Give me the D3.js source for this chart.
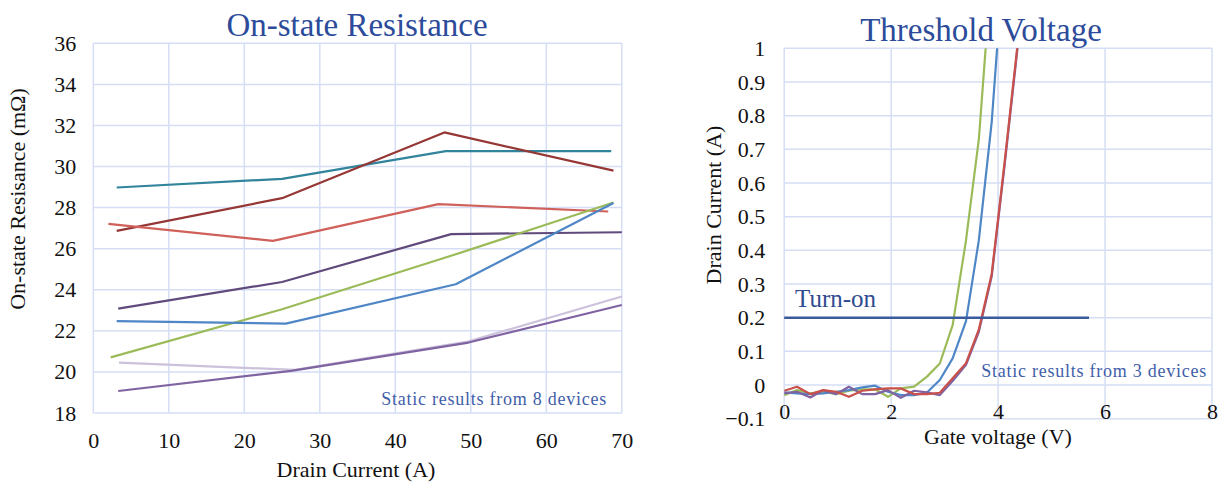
<!DOCTYPE html>
<html>
<head>
<meta charset="utf-8">
<script src="https://cdn.jsdelivr.net/npm/d3@7"></script>
<style>
  html, body { margin: 0; padding: 0; background: #fff; }
  svg { display: block; }
  text { font-family: "Liberation Serif", "Times New Roman", serif; }
</style>
</head>
<body>
<svg id="chart" width="1228" height="483"></svg>
<script>
// ---------- On-state resistance vs drain current (8 devices) ----------
const resTicksX = [0, 10, 20, 30, 40, 50, 60, 70];
const resTicksY = [18, 20, 22, 24, 26, 28, 30, 32, 34, 36];

const devTealI   = [3.1, 25.0, 46.7, 68.6];
const devTealR   = [28.98, 29.40, 30.75, 30.75];
const devMaroonI = [3.1, 25.0, 46.5, 68.9];
const devMaroonR = [26.87, 28.46, 31.66, 29.80];
const devCoralI  = [2.0, 23.8, 45.7, 68.2];
const devCoralR  = [27.21, 26.38, 28.17, 27.81];
const devPlumI   = [3.3, 25.0, 47.4, 70.0];
const devPlumR   = [23.08, 24.38, 26.71, 26.80];
const devGreenI  = [2.3, 25.0, 47.7, 68.9];
const devGreenR  = [20.71, 23.05, 25.69, 28.25];
const devBlueI   = [3.1, 25.5, 48.0, 68.9];
const devBlueR   = [22.47, 22.35, 24.27, 28.22];
const devLilacI  = [3.4, 26.7, 49.6, 70.0];
const devLilacR  = [20.45, 20.10, 21.48, 23.67];
const devPurpleI = [3.3, 26.2, 49.7, 70.0];
const devPurpleR = [19.07, 20.05, 21.43, 23.26];

// ---------- Transfer curves, drain current vs gate voltage ----------
const vthTicksX = [0, 2, 4, 6, 8];
const vthTicksY = [-0.1, 0, 0.1, 0.2, 0.3, 0.4, 0.5, 0.6, 0.7, 0.8, 0.9, 1];
const gateV = [0, 0.24, 0.49, 0.73, 0.97, 1.21, 1.46, 1.70, 1.94, 2.18, 2.43, 2.67, 2.91, 3.15, 3.40, 3.64, 3.88, 4.12, 4.37];
const idGreen  = [-0.030, -0.015, -0.025, -0.020, -0.027, -0.017, -0.013, -0.013, -0.035, -0.010, -0.005, 0.025, 0.064, 0.178, 0.430, 0.730, 1.240];
const idBlue   = [-0.022, -0.025, -0.027, -0.025, -0.020, -0.015, -0.007, -0.002, -0.020, -0.030, -0.030, -0.022, 0.015, 0.079, 0.190, 0.430, 0.780, 1.300];
const idPurple = [-0.025, -0.020, -0.037, -0.015, -0.027, -0.005, -0.027, -0.027, -0.015, -0.038, -0.017, -0.022, -0.030, 0.012, 0.060, 0.158, 0.322, 0.650, 1.010];
const idRed    = [-0.017, -0.005, -0.027, -0.015, -0.020, -0.035, -0.017, -0.013, -0.010, -0.010, -0.027, -0.027, -0.023, 0.020, 0.065, 0.165, 0.330, 0.660, 1.020];
const turnOnLevel = 0.2;
const turnOnSpan = [0, 5.7];

const svg = d3.select("#chart");
const serif = "'Liberation Serif', 'Times New Roman', serif";
const gridColor = "#d5def4";
const titleColor = "#2c4b9a";
const noteColor = "#3f5eaa";
const tickSize = 22;

function zip(xs, ys) { return ys.map((y, i) => [xs[i], y]); }
function styleAxis(g) {
  g.attr("font-family", serif).attr("font-size", tickSize);
  g.select(".domain").remove();
  g.selectAll("text").attr("fill", "#111");
}

// ======== left panel ========
const xL = d3.scaleLinear().domain([0, 70]).range([93.3, 621.8]);
const yL = d3.scaleLinear().domain([18, 36]).range([413, 43.3]);
const gL = svg.append("g");

gL.append("g").selectAll("line").data(resTicksX).join("line")
  .attr("x1", d => xL(d)).attr("x2", d => xL(d))
  .attr("y1", yL(18)).attr("y2", yL(36))
  .attr("stroke", gridColor).attr("stroke-width", 1.5);
gL.append("g").selectAll("line").data(resTicksY).join("line")
  .attr("x1", xL(0)).attr("x2", xL(70))
  .attr("y1", d => yL(d)).attr("y2", d => yL(d))
  .attr("stroke", gridColor).attr("stroke-width", 1.5);

gL.append("g").attr("transform", `translate(${xL(0)},0)`)
  .call(d3.axisLeft(yL).tickValues(resTicksY).tickSize(0).tickPadding(17))
  .call(styleAxis);
gL.append("g").attr("transform", `translate(0,${yL(18)})`)
  .call(d3.axisBottom(xL).tickValues(resTicksX).tickSize(0).tickPadding(19))
  .call(styleAxis);

const resSeries = [
  { I: devTealI,   R: devTealR,   color: "#31849b" },
  { I: devMaroonI, R: devMaroonR, color: "#953735" },
  { I: devCoralI,  R: devCoralR,  color: "#d0605a" },
  { I: devPlumI,   R: devPlumR,   color: "#5f4a7b" },
  { I: devGreenI,  R: devGreenR,  color: "#9bbb59" },
  { I: devBlueI,   R: devBlueR,   color: "#4f86c6" },
  { I: devLilacI,  R: devLilacR,  color: "#cdc2dc" },
  { I: devPurpleI, R: devPurpleR, color: "#8064a2" }
];
const lineL = d3.line().x(d => xL(d[0])).y(d => yL(d[1]));
gL.append("g").selectAll("path").data(resSeries).join("path")
  .attr("d", s => lineL(zip(s.I, s.R)))
  .attr("fill", "none").attr("stroke", s => s.color)
  .attr("stroke-width", 2.2).attr("stroke-linejoin", "round");

gL.append("text").attr("x", 357).attr("y", 36).attr("text-anchor", "middle")
  .attr("font-size", 33).attr("fill", titleColor).text("On-state Resistance");
gL.append("text").attr("x", 356).attr("y", 477).attr("text-anchor", "middle")
  .attr("font-size", 22).attr("fill", "#111").text("Drain Current (A)");
gL.append("text").attr("transform", "translate(25,199) rotate(-90)")
  .attr("text-anchor", "middle").attr("font-size", 22).attr("fill", "#111")
  .text("On-state Resisance (mΩ)");
gL.append("text").attr("x", 607).attr("y", 405).attr("text-anchor", "end")
  .attr("font-size", 18).attr("letter-spacing", 0.75).attr("fill", noteColor)
  .text("Static results from 8 devices");

// ======== right panel ========
const xR = d3.scaleLinear().domain([0, 8]).range([784.2, 1212]);
const yR = d3.scaleLinear().domain([-0.1, 1]).range([418.7, 48.3]);
const gR = svg.append("g");

svg.append("defs").append("clipPath").attr("id", "clipR")
  .append("rect").attr("x", xR(0)).attr("y", yR(1))
  .attr("width", xR(8) - xR(0)).attr("height", yR(-0.1) - yR(1));

gR.append("g").selectAll("line").data(vthTicksX).join("line")
  .attr("x1", d => xR(d)).attr("x2", d => xR(d))
  .attr("y1", yR(-0.1)).attr("y2", yR(1))
  .attr("stroke", gridColor).attr("stroke-width", 1.5);
gR.append("g").selectAll("line").data(vthTicksY).join("line")
  .attr("x1", xR(0)).attr("x2", xR(8))
  .attr("y1", d => yR(d)).attr("y2", d => yR(d))
  .attr("stroke", gridColor).attr("stroke-width", 1.5);

const fmtY = d => d3.format(".1~f")(d);
gR.append("g").attr("transform", `translate(${xR(0)},0)`)
  .call(d3.axisLeft(yR).tickValues(vthTicksY).tickFormat(fmtY).tickSize(0).tickPadding(19))
  .call(styleAxis);
gR.append("g").attr("transform", `translate(0,${yR(0)})`)
  .call(d3.axisBottom(xR).tickValues(vthTicksX).tickSize(0).tickPadding(18))
  .call(styleAxis);

const vthSeries = [
  { I: idGreen,  color: "#9bbb59" },
  { I: idBlue,   color: "#4f86c6" },
  { I: idPurple, color: "#8064a2" },
  { I: idRed,    color: "#c9504b" }
];
const lineR = d3.line().x(d => xR(d[0])).y(d => yR(d[1]));
gR.append("g").attr("clip-path", "url(#clipR)")
  .selectAll("path").data(vthSeries).join("path")
  .attr("d", s => lineR(zip(gateV, s.I)))
  .attr("fill", "none").attr("stroke", s => s.color)
  .attr("stroke-width", 2.2).attr("stroke-linejoin", "round");

gR.append("line")
  .attr("x1", xR(turnOnSpan[0])).attr("x2", xR(turnOnSpan[1]))
  .attr("y1", yR(turnOnLevel)).attr("y2", yR(turnOnLevel))
  .attr("stroke", "#3a5a9e").attr("stroke-width", 2.5);
gR.append("text").attr("x", 795).attr("y", 307)
  .attr("font-size", 25).attr("fill", "#2f4b8f").text("Turn-on");

gR.append("text").attr("x", 981).attr("y", 41).attr("text-anchor", "middle")
  .attr("font-size", 33).attr("fill", titleColor).text("Threshold Voltage");
gR.append("text").attr("x", 998).attr("y", 444).attr("text-anchor", "middle")
  .attr("font-size", 22).attr("fill", "#111").text("Gate voltage (V)");
gR.append("text").attr("transform", "translate(721,205) rotate(-90)")
  .attr("text-anchor", "middle").attr("font-size", 22).attr("fill", "#111")
  .text("Drain Current (A)");
gR.append("text").attr("x", 1207).attr("y", 377).attr("text-anchor", "end")
  .attr("font-size", 18).attr("letter-spacing", 0.75).attr("fill", noteColor)
  .text("Static results from 3 devices");
</script>
</body>
</html>
